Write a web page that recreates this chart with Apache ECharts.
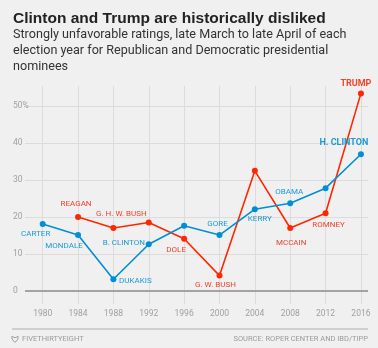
<!DOCTYPE html>
<html><head><meta charset="utf-8">
<script src="https://cdn.jsdelivr.net/npm/echarts@6/dist/echarts.min.js"></script>
<style>html,body{margin:0;padding:0;background:#f0f0f0}#c{width:378px;height:348px}</style>
</head><body><div id="c"></div>
<script>
const years = [1980, 1984, 1988, 1992, 1996, 2000, 2004, 2008, 2012, 2016];
const yTicks = [0, 10, 20, 30, 40, 50];
const demValues = [18.1, 15.1, 3.1, 12.6, 17.6, 15.1, 22.1, 23.7, 27.8, 37.0];
const repValues = [null, 20.0, 17.0, 18.5, 14.1, 4.1, 32.5, 17.0, 21.0, 53.5];
const demNames = ['CARTER', 'MONDALE', 'DUKAKIS', 'B. CLINTON', '', 'GORE', 'KERRY', 'OBAMA', '', 'H. CLINTON'];
const repNames = ['', 'REAGAN', 'G. H. W. BUSH', '', 'DOLE', 'G. W. BUSH', '', 'MCCAIN', 'ROMNEY', 'TRUMP'];
const titleText = 'Clinton and Trump are historically disliked';
const subtitleLines = [
  'Strongly unfavorable ratings, late March to late April of each',
  'election year for Republican and Democratic presidential',
  'nominees'
];

// label placement (styling only)
const demOffsets = [[-7, 10], [-14, 11], [22, 2], [-25, -1], null, [-2, -11], [5, 10], [-1, -11], null, [-17, -11]];
const repOffsets = [null, [-2, -13], [8, -14], null, [-8, 11], [-4, 9], null, [1, 15], [3, 12], [-5, -10]];
const boldNames = ['TRUMP', 'H. CLINTON'];

const RED = '#ff2700', BLUE = '#008fd5';
const LBL_FONT = 'Roboto, "DejaVu Sans", sans-serif';

function build(values, names, offsets, lblColor) {
  return years.map((yr, i) => {
    const item = { value: [yr, values[i]] };
    if (names[i]) {
      const bold = boldNames.includes(names[i]);
      item.label = {
        show: true, position: 'inside', offset: offsets[i],
        formatter: names[i], color: lblColor, fontSize: bold ? 9 : 8,
        fontFamily: LBL_FONT,
        fontWeight: bold ? 'bold' : 'normal'
      };
    }
    return item;
  }).filter(d => d.value[1] !== null);
}

const graphics = [
  { type: 'text', x: 13, y: 19, style: { text: titleText, fontSize: 15.5, fontWeight: 'bold', fill: '#222', fontFamily: '"Liberation Sans", Arial, sans-serif', verticalAlign: 'middle' } },
  { type: 'rect', shape: { x: 12, y: 328, width: 356, height: 2 }, style: { fill: '#cfcfcf' } },
  { type: 'polygon', shape: { points: [[12, 336], [14, 337.5], [16, 337.5], [18, 336], [18, 339], [15, 342.5], [12, 339]] }, style: { fill: 'none', stroke: '#a0a0a0', lineWidth: 1 } },
  { type: 'text', left: 22, top: 335, style: { text: 'FIVETHIRTYEIGHT', fontSize: 7.5, fill: '#9a9a9a', fontFamily: LBL_FONT } },
  { type: 'text', right: 10, top: 335, style: { text: 'SOURCE: ROPER CENTER AND IBD/TIPP', fontSize: 7.5, fill: '#9a9a9a', fontFamily: LBL_FONT } }
];
subtitleLines.forEach((t, i) => graphics.push({
  type: 'text', x: 13, y: 35 + i * 16,
  style: { text: t, fontSize: 12.6, fill: '#333', fontFamily: 'Roboto, "Liberation Sans", sans-serif', verticalAlign: 'middle' }
}));

const chart = echarts.init(document.getElementById('c'));
chart.setOption({
  backgroundColor: '#f0f0f0',
  animation: false,
  grid: { left: 25, right: 10, top: 86, bottom: 44, containLabel: false },
  xAxis: {
    type: 'value', min: 1978, max: 2016.8,
    axisLine: { show: false, onZero: false },
    axisTick: { show: false, customValues: years },
    axisLabel: { customValues: years, color: '#a0a0a0', fontSize: 8.5, margin: 5, fontFamily: LBL_FONT, formatter: v => String(v) },
    splitLine: { show: true, lineStyle: { color: '#dcdcdc', width: 1 } }
  },
  yAxis: {
    type: 'value', min: -3.6, max: 55.5,
    axisLine: { show: false },
    axisTick: { show: false, customValues: yTicks },
    axisLabel: {
      customValues: yTicks, color: '#a0a0a0', fontSize: 8.5, align: 'left', margin: 12, fontFamily: LBL_FONT,
      formatter: v => v === 50 ? '50%' : String(v)
    },
    splitLine: { show: true, lineStyle: { color: '#dcdcdc', width: 1 } }
  },
  series: [
    {
      name: 'Republican', type: 'line', data: build(repValues, repNames, repOffsets, '#f0432a'),
      color: RED, symbol: 'circle', symbolSize: 6, lineStyle: { width: 1.6, color: RED },
      itemStyle: { color: RED }, z: 3
    },
    {
      name: 'Democrat', type: 'line', data: build(demValues, demNames, demOffsets, '#1c9ad6'),
      color: BLUE, symbol: 'circle', symbolSize: 6, lineStyle: { width: 1.6, color: BLUE },
      itemStyle: { color: BLUE }, z: 4,
      markLine: {
        silent: true, symbol: 'none', label: { show: false },
        lineStyle: { color: '#a3a3a3', width: 2, type: 'solid' },
        data: [{ yAxis: 0 }]
      }
    }
  ],
  graphic: graphics
});
</script></body></html>
